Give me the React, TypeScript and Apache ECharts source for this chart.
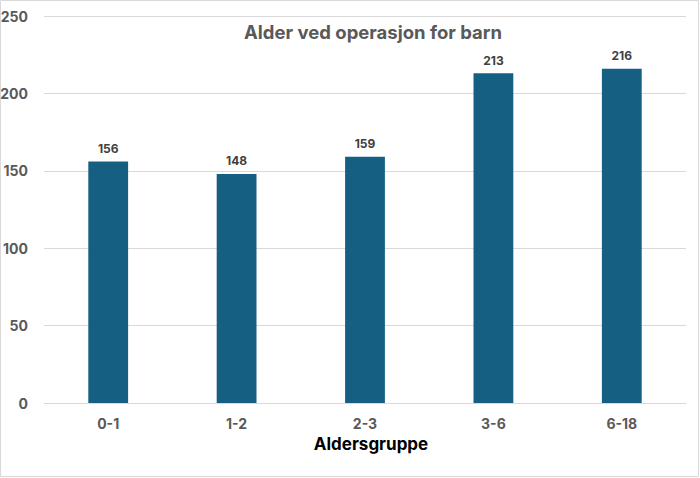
import React, { useEffect, useRef } from "react";
import * as echarts from "echarts";

const categories = ["0-1", "1-2", "2-3", "3-6", "6-18"];
const values = [156, 148, 159, 213, 216];
const title = "Alder ved operasjon for barn";
const xAxisTitle = "Aldersgruppe";

export default function App() {
  const ref = useRef<HTMLDivElement>(null);
  useEffect(() => {
    if (!ref.current) return;
    const chart = echarts.init(ref.current, null, { renderer: "svg" });
    const font = "Inter, Roboto, 'Noto Sans', sans-serif";
    chart.setOption({
      animation: false,
      backgroundColor: "#ffffff",
      textStyle: { fontFamily: font },
      title: {
        text: title,
        left: 368,
        top: 17,
        textAlign: "center",
        textStyle: { color: "#595959", fontSize: 18.5, fontWeight: "bold", fontFamily: font },
      },
      graphic: [
        {
          type: "rect",
          shape: { x: 0.5, y: 0.5, width: 698, height: 476 },
          style: { fill: "none", stroke: "#d9d9d9", lineWidth: 1 },
          silent: true,
        },
        {
          type: "text",
          x: 371,
          y: 444,
          style: {
            text: xAxisTitle,
            fill: "#000000",
            font: `bold 17px ${font}`,
            textAlign: "center",
            textVerticalAlign: "middle",
          },
        },
      ],
      grid: { left: 44, right: 14, top: 16, bottom: 75, containLabel: false, outerBoundsMode: "none" },
      xAxis: {
        type: "category",
        data: categories,
        axisLine: { show: true, lineStyle: { color: "#d9d9d9" } },
        axisTick: { show: false },
        axisLabel: { color: "#595959", fontSize: 14, fontWeight: "bold", margin: 13, fontFamily: font },
      },
      yAxis: {
        type: "value",
        min: 0,
        max: 250,
        interval: 50,
        axisLine: { show: false },
        axisTick: { show: false },
        splitLine: { lineStyle: { color: "#d9d9d9" } },
        axisLabel: { color: "#595959", fontSize: 14, fontWeight: "bold", margin: 16, fontFamily: font },
      },
      series: [
        {
          type: "bar",
          data: values,
          barWidth: "31%",
          itemStyle: { color: "#156082" },
          label: {
            show: true,
            position: "top",
            distance: 7,
            color: "#404040",
            fontSize: 12,
            fontWeight: "bold",
            fontFamily: font,
          },
        },
      ],
    });
    return () => chart.dispose();
  }, []);
  return (
    <div style={{ position: "absolute", left: 0, top: 0, width: 700, height: 478 }}>
      <div ref={ref} style={{ width: 700, height: 478 }} />
    </div>
  );
}
